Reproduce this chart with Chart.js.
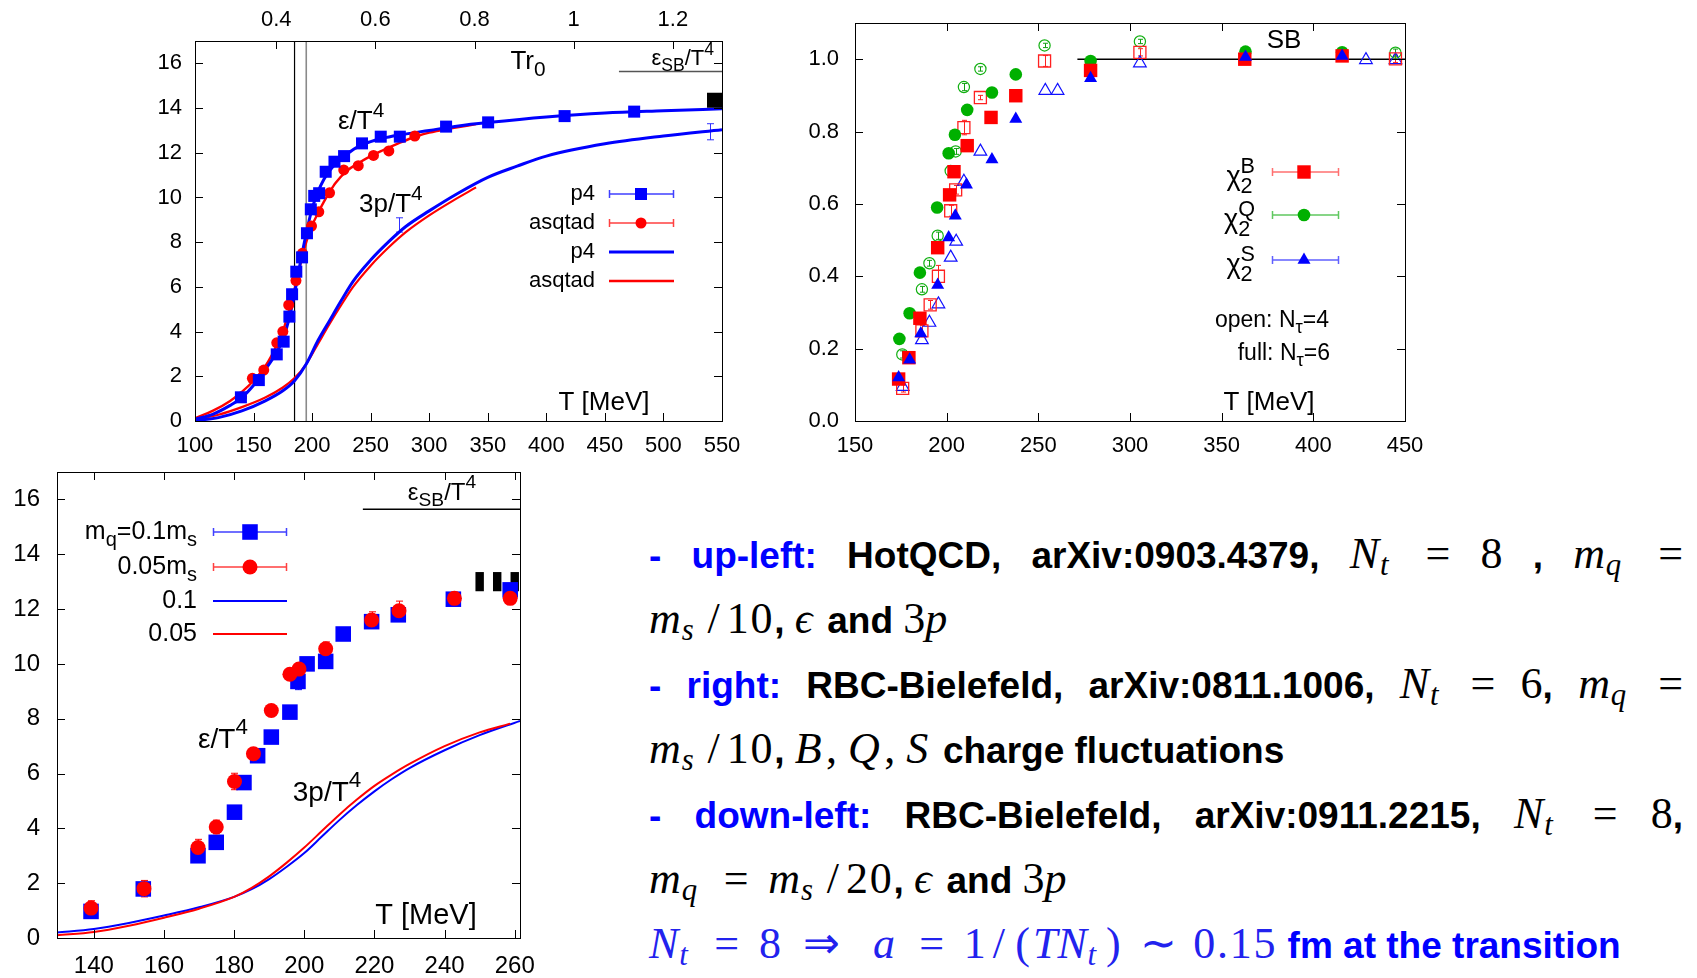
<!DOCTYPE html>
<html>
<head>
<meta charset="utf-8">
<script src="https://cdn.jsdelivr.net/npm/chart.js@4.4.0/dist/chart.umd.min.js"></script>
<style>
body{margin:0;background:#fff;width:1697px;height:978px;overflow:hidden;position:relative}
canvas{position:absolute}
#c1{left:140px;top:0}
#c2{left:780px;top:0}
#c3{left:0;top:460px}
.ln{position:absolute;left:649px;white-space:nowrap;font:bold 37px "Liberation Sans",Arial,sans-serif;color:#000;height:65px;line-height:65px}
.j{width:1034px;white-space:normal;text-align:justify;text-align-last:justify}
.m{font-family:"Liberation Serif","Times New Roman",serif;font-weight:normal;font-size:44px}
.m i{padding-right:0.1em}
.m i:has(+ sub){padding-right:0.02em}
.m sub{font-size:0.7em;vertical-align:-0.22em;line-height:0;padding-right:0.12em}
.rel{margin:0 0.2em}
.rel2{margin:0 0.25em}
.rel3{margin:0 0.12em}
.sl{margin:0 0.16em}
.pr{margin:0 0.07em}
.num{letter-spacing:0.04em}
.bl{color:#0000ff}
.mb{color:#2222ee}
</style>
</head>
<body>
<canvas id="c1" width="620" height="460"></canvas>
<canvas id="c2" width="660" height="460"></canvas>
<canvas id="c3" width="560" height="518"></canvas>

<div class="ln j" style="top:521px"><span class="bl">-</span> <span class="bl">up-left:</span> HotQCD, arXiv:0903.4379, <span class="m"><i>N</i><sub><i>t</i></sub></span> <span class="m">=</span> <span class="m">8</span> , <span class="m"><i>m</i><sub><i>q</i></sub></span> <span class="m">=</span></div>
<div class="ln" style="top:586px"><span class="m"><i>m</i><sub><i>s</i></sub><span class="sl">/</span><span class="num">10</span></span>, <span class="m"><i>ϵ</i></span> and <span class="m">3<i>p</i></span></div>
<div class="ln j" style="top:651px"><span class="bl">-</span> <span class="bl">right:</span> RBC-Bielefeld, arXiv:0811.1006, <span class="m"><i>N</i><sub><i>t</i></sub></span> <span class="m">=</span> <span class="m">6</span>, <span class="m"><i>m</i><sub><i>q</i></sub></span> <span class="m">=</span></div>
<div class="ln" style="top:716px"><span class="m"><i>m</i><sub><i>s</i></sub><span class="sl">/</span><span class="num">10</span></span>, <span class="m"><i>B</i>, <i>Q</i>, <i>S</i></span> charge fluctuations</div>
<div class="ln j" style="top:781px"><span class="bl">-</span> <span class="bl">down-left:</span> RBC-Bielefeld, arXiv:0911.2215, <span class="m"><i>N</i><sub><i>t</i></sub></span> <span class="m">=</span> <span class="m">8</span>,</div>
<div class="ln" style="top:846px"><span class="m"><i>m</i><sub><i>q</i></sub> <span class="rel">=</span> <i>m</i><sub><i>s</i></sub><span class="sl">/</span><span class="num">20</span></span>, <span class="m"><i>ϵ</i></span> and <span class="m">3<i>p</i></span></div>
<div class="ln" style="top:911px"><span class="m mb"><i>N</i><sub><i>t</i></sub> <span class="rel">=</span> 8 <span class="rel2">⇒</span>&nbsp; <i>a</i> <span class="rel">=</span> 1<span class="sl">/</span><span class="pr">(</span><i>TN</i><sub><i>t</i></sub><span class="pr">)</span> <span class="rel3">∼</span> <span class="num">0.15</span></span> <span class="bl">fm at the transition</span></div>

<script>
// --- dados: painel superior esquerdo (HotQCD, Nt=8) ---
const c1TicksX = [100, 150, 200, 250, 300, 350, 400, 450, 500, 550];
const c1TicksTop = [0.4, 0.6, 0.8, 1, 1.2];
const c1TicksY = [0, 2, 4, 6, 8, 10, 12, 14, 16];

const p4T = [139.2, 154.5, 169.8, 175.7, 180.6, 182.9, 186.5, 191.4, 195.6, 198.9, 201.8, 206, 211.6, 219.1, 227.3, 242.6, 258.6, 274.9, 314.4, 350.3, 415.6, 475];
const p4E = [1.06, 1.83, 2.98, 3.55, 4.67, 5.67, 6.68, 7.32, 8.40, 9.47, 10.07, 10.19, 11.15, 11.6, 11.85, 12.42, 12.72, 12.72, 13.17, 13.36, 13.64, 13.84];
const asqT = [139.8, 149, 158.7, 169.8, 175, 180, 186.2, 191.7, 199.5, 205.7, 214.9, 227, 239.4, 252.4, 265.5, 287.7];
const asqE = [1.09, 1.91, 2.28, 3.50, 4.0, 5.19, 6.28, 7.5, 8.72, 9.36, 10.21, 11.23, 11.42, 11.88, 12.08, 12.75];

const p4CurveT = [100, 115, 130, 140, 150, 160, 170, 175, 180, 185, 190, 195, 200, 205, 210, 215, 220, 230, 240, 250, 260, 275, 300, 325, 350, 400, 450, 500, 550];
const p4CurveE = [0.08, 0.3, 0.7, 1.05, 1.6, 2.3, 3.1, 3.65, 4.5, 5.7, 7.1, 8.4, 9.5, 10.25, 10.8, 11.2, 11.5, 11.95, 12.3, 12.5, 12.65, 12.8, 13.0, 13.2, 13.35, 13.6, 13.78, 13.88, 13.97];
const asqCurveT = [100, 115, 130, 140, 150, 160, 170, 175, 180, 185, 190, 195, 200, 205, 210, 215, 220, 230, 240, 250, 260, 275, 290, 300, 320, 340];
const asqCurveE = [0.12, 0.45, 0.9, 1.3, 1.8, 2.45, 3.4, 4.0, 4.9, 5.9, 7.0, 8.0, 8.75, 9.3, 9.8, 10.25, 10.65, 11.2, 11.55, 11.85, 12.1, 12.45, 12.75, 12.9, 13.1, 13.28];
const p4PressT = [100, 120, 140, 160, 175, 185, 195, 205, 215, 225, 235, 250, 265, 280, 300, 325, 350, 375, 400, 450, 500, 550];
const p4Press = [0.02, 0.15, 0.45, 0.9, 1.35, 1.8, 2.55, 3.6, 4.5, 5.4, 6.25, 7.2, 8.0, 8.7, 9.4, 10.2, 10.9, 11.4, 11.85, 12.4, 12.75, 13.03];
const asqPressT = [100, 120, 140, 160, 175, 185, 195, 205, 215, 225, 235, 250, 265, 280, 300, 320, 340];
const asqPress = [0.06, 0.28, 0.62, 1.05, 1.5, 1.92, 2.55, 3.45, 4.35, 5.2, 6.0, 6.95, 7.75, 8.45, 9.2, 9.85, 10.45];
const p4PressErrT = [274.6, 539.6];
const p4PressErrV = [8.77, 12.94];
const p4PressErr = [0.32, 0.36];
const c1SbMarkT = [543.6];
const c1SbMarkV = [14.35];
const c1SbLineT = [462, 550];
const c1SbLineV = [15.63, 15.63];
const tcLinesT = [185, 195];

// --- dados: painel direito (RBC-Bielefeld, flutuações) ---
const c2TicksX = [150, 200, 250, 300, 350, 400, 450];
const c2TicksY = [0, 0.2, 0.4, 0.6, 0.8, 1.0];
const fullBT = [173.8, 179.4, 185.4, 195.1, 201.6, 204.0, 211.2, 224.2, 237.7, 278.5, 362.6, 415.7];
const fullBV = [0.116, 0.175, 0.284, 0.479, 0.625, 0.689, 0.761, 0.839, 0.899, 0.969, 1.0, 1.009];
const fullQT = [174.2, 179.8, 185.4, 194.8, 201.1, 204.5, 211.2, 224.7, 237.7, 278.5, 363.0, 415.7];
const fullQV = [0.227, 0.298, 0.41, 0.59, 0.74, 0.791, 0.86, 0.908, 0.958, 0.995, 1.021, 1.019];
const fullST = [173.8, 179.8, 185.9, 195.1, 201.1, 204.7, 210.8, 224.7, 237.7, 278.5, 363.0, 415.7];
const fullSV = [0.12, 0.169, 0.242, 0.376, 0.507, 0.567, 0.653, 0.723, 0.835, 0.947, 1.006, 1.009];
const openBT = [176.0, 186.5, 191.0, 195.5, 202.2, 204.9, 209.4, 218.4, 253.4, 305.4, 444.8];
const openBV = [0.09, 0.249, 0.321, 0.4, 0.581, 0.639, 0.811, 0.894, 0.995, 1.019, 1.001];
const openBErr = [0.01, 0.015, 0.012, 0.03, 0.015, 0.012, 0.02, 0.006, 0.015, 0.01, 0.01];
const openQT = [175.8, 186.5, 190.6, 195.1, 202.2, 204.9, 209.4, 218.4, 253.4, 305.4, 444.8];
const openQV = [0.184, 0.364, 0.436, 0.512, 0.691, 0.745, 0.923, 0.973, 1.038, 1.049, 1.018];
const openQErr = [0.01, 0.008, 0.008, 0.01, 0.01, 0.008, 0.01, 0.006, 0.006, 0.006, 0.01];
const openST = [176.0, 186.5, 190.6, 195.5, 202.2, 205.2, 209.4, 218.4, 253.8, 260.5, 305.4, 428.7, 444.8];
const openSV = [0.095, 0.224, 0.272, 0.323, 0.452, 0.496, 0.662, 0.745, 0.913, 0.913, 0.989, 0.998, 0.998];
const c2SbLineT = [271.3, 450];
const c2SbLineV = [1.0, 1.0];

// --- dados: painel inferior esquerdo (RBC-Bielefeld, Nt=8) ---
const c3TicksX = [140, 160, 180, 200, 220, 240, 260];
const c3TicksY = [0, 2, 4, 6, 8, 10, 12, 14, 16];
const m01T = [139.2, 154.1, 169.7, 174.9, 180.1, 182.8, 186.7, 190.6, 195.9, 198.2, 200.8, 206.1, 211.1, 219.2, 226.8, 242.5, 258.7];
const m01E = [0.97, 1.79, 3.0, 3.49, 4.59, 5.67, 6.65, 7.33, 8.24, 9.36, 10.0, 10.09, 11.09, 11.54, 11.79, 12.36, 12.7];
const m01Err = [0.12, 0.1, 0.15, 0.1, 0.08, 0.08, 0.1, 0.08, 0.08, 0.3, 0.08, 0.15, 0.08, 0.12, 0.12, 0.15, 0.12];
const m005T = [139.2, 154.3, 169.7, 174.9, 180.1, 185.5, 190.6, 195.9, 198.5, 206.1, 219.2, 227.0, 242.8, 258.7];
const m005E = [1.09, 1.8, 3.3, 4.05, 5.71, 6.72, 8.3, 9.62, 9.81, 10.55, 11.6, 11.94, 12.39, 12.39];
const m005Err = [0.27, 0.3, 0.3, 0.25, 0.3, 0.1, 0.1, 0.1, 0.12, 0.25, 0.3, 0.35, 0.2, 0.12];
const m01PressT = [129.5, 140, 150, 160, 170, 180, 185, 190, 195, 200, 205, 210, 215, 220, 225, 230, 240, 250, 261.5];
const m01Press = [0.2, 0.33, 0.55, 0.82, 1.12, 1.5, 1.78, 2.15, 2.6, 3.1, 3.7, 4.3, 4.85, 5.35, 5.8, 6.2, 6.85, 7.4, 7.92];
const m005PressT = [129.5, 140, 150, 160, 170, 180, 185, 190, 195, 200, 205, 210, 215, 220, 225, 230, 240, 250, 258.7];
const m005Press = [0.1, 0.22, 0.45, 0.74, 1.07, 1.5, 1.83, 2.25, 2.75, 3.3, 3.9, 4.5, 5.05, 5.55, 5.97, 6.35, 7.0, 7.5, 7.82];
const c3SbBoxT = [250, 255, 260];
const c3SbBoxLo = 12.65;
const c3SbBoxHi = 13.35;
const c3SbLineT = [216.7, 261.5];
const c3SbLineV = [15.64, 15.64];

// --- estilo ---
const FAM = '"Liberation Sans", Arial, sans-serif';
const BLUE = '#0000ff', RED = '#ff0000', GREEN = '#00b000';
const NONE = 'rgba(0,0,0,0)';

const mk = {
    p4: {style: 'rect', r: 8.5, fill: BLUE, stroke: BLUE, bw: 0},
    asq: {style: 'circle', r: 5.5, fill: RED, stroke: RED, bw: 0},
    fullB: {style: 'rect', r: 9.5, fill: RED, stroke: RED, bw: 0},
    fullQ: {style: 'circle', r: 6.3, fill: GREEN, stroke: GREEN, bw: 0},
    fullS: {style: 'triangle', r: 7.5, fill: BLUE, stroke: BLUE, bw: 0},
    openB: {style: 'rect', r: 8.5, fill: NONE, stroke: '#ff2020', bw: 1.3},
    openQ: {style: 'circle', r: 5.6, fill: NONE, stroke: '#10b010', bw: 1.2},
    openS: {style: 'triangle', r: 7.3, fill: NONE, stroke: '#1010ff', bw: 1.2},
    m01: {style: 'rect', r: 11, fill: BLUE, stroke: BLUE, bw: 0},
    m005: {style: 'circle', r: 7.5, fill: RED, stroke: RED, bw: 0}
};

function pts(xs, ys) {
    return xs.map((x, i) => ({x: x, y: ys[i]}));
}

function markerSet(xs, ys, m, extra) {
    return Object.assign({
        data: pts(xs, ys), showLine: false,
        pointStyle: m.style, pointRadius: m.r,
        pointBackgroundColor: m.fill, pointBorderColor: m.stroke,
        pointBorderWidth: m.bw, borderColor: m.stroke, clip: false
    }, extra || {});
}

function curveSet(xs, ys, color, width, extra) {
    return Object.assign({
        data: pts(xs, ys), showLine: true, pointRadius: 0,
        borderColor: color, borderWidth: width,
        cubicInterpolationMode: 'monotone', fill: false
    }, extra || {});
}

// --- texto com índices (estilo gnuplot enhanced) ---
function parseRich(s) {
    const out = [];
    let buf = '', i = 0;
    while (i < s.length) {
        const c = s[i];
        if (c === '_' || c === '^') {
            if (buf) { out.push({t: buf, k: 'n'}); buf = ''; }
            let g;
            if (s[i + 1] === '{') {
                const j = s.indexOf('}', i);
                g = s.slice(i + 2, j);
                i = j + 1;
            } else {
                g = s[i + 1];
                i += 2;
            }
            out.push({t: g, k: c === '_' ? 'b' : 'p'});
        } else {
            buf += c;
            i++;
        }
    }
    if (buf) out.push({t: buf, k: 'n'});
    return out;
}

function drawRich(ctx, s, x, y, size, align, color) {
    const parts = parseRich(s);
    const small = size * 0.8;
    const items = [];
    let w = 0, start = 0;
    parts.forEach((p, i) => {
        const fs = p.k === 'n' ? size : small;
        ctx.font = fs + 'px ' + FAM;
        const pw = ctx.measureText(p.t).width;
        const prev = parts[i - 1];
        let px;
        if (p.k === 'p' && prev && prev.k === 'b') {
            px = start;
            w = Math.max(w, start + pw);
        } else {
            start = w;
            px = w;
            w += pw;
        }
        items.push({t: p.t, x: px, fs: fs, dy: p.k === 'b' ? size * 0.32 : (p.k === 'p' ? -size * 0.42 : 0)});
    });
    const x0 = align === 'right' ? x - w : (align === 'center' ? x - w / 2 : x);
    ctx.save();
    ctx.fillStyle = color || '#000';
    ctx.textBaseline = 'middle';
    ctx.textAlign = 'left';
    items.forEach(it => {
        ctx.font = it.fs + 'px ' + FAM;
        ctx.fillText(it.t, x0 + it.x, y + it.dy);
    });
    ctx.restore();
}

function drawMarker(ctx, m, x, y) {
    ctx.save();
    ctx.fillStyle = m.fill;
    ctx.strokeStyle = m.stroke;
    ctx.lineWidth = m.bw || 1;
    ctx.beginPath();
    if (m.style === 'rect') {
        const h = m.r * Math.SQRT1_2;
        ctx.rect(x - h, y - h, 2 * h, 2 * h);
    } else if (m.style === 'circle') {
        ctx.arc(x, y, m.r, 0, 2 * Math.PI);
    } else {
        for (let k = 0; k < 3; k++) {
            const ang = k * 2 * Math.PI / 3;
            const px = x + Math.sin(ang) * m.r, py = y - Math.cos(ang) * m.r;
            if (k === 0) ctx.moveTo(px, py); else ctx.lineTo(px, py);
        }
        ctx.closePath();
    }
    ctx.fill();
    if (m.bw) ctx.stroke();
    ctx.restore();
}

function drawLegend(ctx, lg) {
    lg.items.forEach((it, i) => {
        const y = lg.ys[i];
        drawRich(ctx, it.s, lg.tx, y + (lg.tdy || 0), lg.size, 'right', '#000');
        ctx.save();
        ctx.strokeStyle = it.line;
        ctx.lineWidth = it.lw;
        ctx.beginPath();
        ctx.moveTo(lg.x1, y);
        ctx.lineTo(lg.x2, y);
        if (it.err) {
            ctx.moveTo(lg.x1 + 0.5, y - 4); ctx.lineTo(lg.x1 + 0.5, y + 4);
            ctx.moveTo(lg.x2 - 0.5, y - 4); ctx.lineTo(lg.x2 - 0.5, y + 4);
        }
        ctx.stroke();
        ctx.restore();
        if (it.marker) drawMarker(ctx, it.marker, lg.xm, y);
    });
}

// --- plugin: moldura, ticks para dentro, barras de erro, rótulos ---
const gnuPlugin = {
    id: 'gnu',
    beforeDatasetsDraw(chart, args, o) {
        const ctx = chart.ctx;
        chart.data.datasets.forEach((ds, i) => {
            if (!ds.errs) return;
            const meta = chart.getDatasetMeta(i);
            const ys = chart.scales[meta.yAxisID];
            const c = o.cap || 3.5;
            ctx.save();
            ctx.strokeStyle = ds.errColor || ds.borderColor;
            ctx.lineWidth = 1;
            ctx.beginPath();
            meta.data.forEach((el, j) => {
                const e = ds.errs[j];
                if (!e) return;
                const v = ds.data[j].y;
                const x = Math.round(el.x) + 0.5;
                const y1 = ys.getPixelForValue(v - e), y2 = ys.getPixelForValue(v + e);
                ctx.moveTo(x, y1); ctx.lineTo(x, y2);
                ctx.moveTo(x - c, y1); ctx.lineTo(x + c, y1);
                ctx.moveTo(x - c, y2); ctx.lineTo(x + c, y2);
            });
            ctx.stroke();
            ctx.restore();
        });
        if (o.boxes) {
            const b = o.boxes, xs = chart.scales.x, ys = chart.scales.y, a = chart.chartArea;
            ctx.save();
            ctx.beginPath();
            ctx.rect(a.left, a.top, a.right - a.left, a.bottom - a.top);
            ctx.clip();
            ctx.fillStyle = b.color;
            b.t.forEach(t => {
                const x1 = xs.getPixelForValue(t - b.half), x2 = xs.getPixelForValue(t + b.half);
                const y1 = ys.getPixelForValue(b.hi), y2 = ys.getPixelForValue(b.lo);
                ctx.fillRect(x1, y1, x2 - x1, y2 - y1);
            });
            ctx.restore();
        }
    },
    afterDraw(chart, args, o) {
        const ctx = chart.ctx, a = chart.chartArea, L = o.tickLen || 8;
        ctx.save();
        ctx.strokeStyle = '#000';
        ctx.lineWidth = 1;
        ctx.beginPath();
        Object.values(chart.scales).forEach(s => {
            s.ticks.forEach(t => {
                const p = Math.round(s.getPixelForValue(t.value)) + 0.5;
                if (s.isHorizontal()) {
                    if (s.position === 'bottom') { ctx.moveTo(p, a.bottom); ctx.lineTo(p, a.bottom - L); }
                    if (s.position === 'top' || o.mirrorX) { ctx.moveTo(p, a.top); ctx.lineTo(p, a.top + L); }
                } else {
                    ctx.moveTo(a.left, p); ctx.lineTo(a.left + L, p);
                    ctx.moveTo(a.right, p); ctx.lineTo(a.right - L, p);
                }
            });
        });
        ctx.stroke();
        ctx.strokeRect(Math.round(a.left) + 0.5, Math.round(a.top) + 0.5,
            Math.round(a.right - a.left), Math.round(a.bottom - a.top));
        (o.labels || []).forEach(l => drawRich(ctx, l.s, l.x, l.y, l.size, l.align, l.color));
        if (o.legend) drawLegend(ctx, o.legend);
        ctx.restore();
    }
};
Chart.register(gnuPlugin);

function axis(position, min, max, ticks, size, font, pad, fmt) {
    return {
        type: 'linear', position: position, min: min, max: max,
        grid: {display: false, drawTicks: false},
        border: {display: false},
        afterBuildTicks: s => { s.ticks = ticks.map(v => ({value: v})); },
        afterFit: s => {
            // tamanho fixo do eixo, sem folga extra dos rótulos
            if (s.isHorizontal()) {
                s.height = size;
                s.paddingLeft = 0;
                s.paddingRight = 0;
            } else {
                s.width = size;
                s.paddingTop = 0;
                s.paddingBottom = 0;
            }
        },
        ticks: {
            autoSkip: false, maxRotation: 0, minRotation: 0, padding: pad, color: '#000',
            font: {family: FAM, size: font, lineHeight: 1.2},
            callback: fmt || (v => String(v))
        }
    };
}

function baseOptions(scales, pad, gnu) {
    return {
        responsive: false, animation: false, devicePixelRatio: 1,
        layout: {padding: pad},
        scales: scales,
        plugins: {legend: {display: false}, tooltip: {enabled: false}, gnu: gnu}
    };
}

// --- gráfico 1 ---
new Chart(document.getElementById('c1'), {
    type: 'scatter',
    data: {
        datasets: [
            markerSet(p4T, p4E, mk.p4),
            markerSet(asqT, asqE, mk.asq),
            markerSet(c1SbMarkT, c1SbMarkV, {style: 'rect', r: 10.6, fill: '#000', stroke: '#000', bw: 0}),
            curveSet(p4CurveT, p4CurveE, BLUE, 3),
            curveSet(asqCurveT, asqCurveE, RED, 2.4),
            curveSet(p4PressT, p4Press, BLUE, 3),
            curveSet(asqPressT, asqPress, RED, 2.2),
            Object.assign(markerSet(p4PressErrT, p4PressErrV, {style: 'circle', r: 0, fill: NONE, stroke: BLUE, bw: 0}),
                {errs: p4PressErr, errColor: '#3030ff'}),
            curveSet([tcLinesT[0], tcLinesT[0]], [0, 17], '#000', 1.2, {cubicInterpolationMode: 'default'}),
            curveSet([tcLinesT[1], tcLinesT[1]], [0, 17], '#8a8a8a', 1.6, {cubicInterpolationMode: 'default'}),
            curveSet(c1SbLineT, c1SbLineV, '#555', 1.5)
        ]
    },
    options: baseOptions({
        x: axis('bottom', 100, 550, c1TicksX, 39, 22, 12),
        x2: axis('top', 0.2362, 1.2991, c1TicksTop, 41, 22, 7.5),
        y: axis('left', 0, 17, c1TicksY, 55, 22, 13)
    }, {left: 0, right: 38, top: 0, bottom: 0}, {
        tickLen: 8,
        labels: [
            {s: 'Tr_0', x: 388, y: 62, size: 26, align: 'center'},
            {s: 'ε_{SB}/T^4', x: 574, y: 59, size: 22, align: 'right'},
            {s: 'ε/T^4', x: 198, y: 122, size: 26, align: 'left'},
            {s: '3p/T^4', x: 219, y: 205, size: 26, align: 'left'},
            {s: 'T [MeV]', x: 464, y: 403, size: 26, align: 'center'}
        ],
        legend: {
            tx: 455, x1: 469, x2: 534, xm: 501, size: 22,
            ys: [194, 223, 252, 281],
            items: [
                {s: 'p4', line: '#4040ff', lw: 1.5, err: true, marker: mk.p4},
                {s: 'asqtad', line: '#ff4040', lw: 1.5, err: true, marker: mk.asq},
                {s: 'p4', line: BLUE, lw: 3},
                {s: 'asqtad', line: RED, lw: 2.4}
            ]
        }
    })
});

// --- gráfico 2 ---
new Chart(document.getElementById('c2'), {
    type: 'scatter',
    data: {
        datasets: [
            markerSet(fullST, fullSV, mk.fullS),
            markerSet(fullBT, fullBV, mk.fullB),
            markerSet(fullQT, fullQV, mk.fullQ),
            Object.assign(markerSet(openBT, openBV, mk.openB), {errs: openBErr, errColor: '#ff2020'}),
            Object.assign(markerSet(openQT, openQV, mk.openQ), {errs: openQErr, errColor: '#10a010'}),
            markerSet(openST, openSV, mk.openS),
            curveSet(c2SbLineT, c2SbLineV, '#000', 1.6)
        ]
    },
    options: baseOptions({
        x: axis('bottom', 150, 450, c2TicksX, 39, 22, 12),
        y: axis('left', 0, 1.1, c2TicksY, 75, 22, 16, v => v.toFixed(1))
    }, {left: 0, right: 35, top: 23, bottom: 0}, {
        tickLen: 8, mirrorX: true, cap: 2.5,
        labels: [
            {s: 'SB', x: 504, y: 41, size: 26, align: 'center'},
            {s: 'open: N_τ=4', x: 549, y: 321, size: 23, align: 'right'},
            {s: 'full: N_τ=6', x: 550, y: 354, size: 23, align: 'right'},
            {s: 'T [MeV]', x: 489, y: 403, size: 26, align: 'center'}
        ],
        legend: {
            tx: 475, x1: 492, x2: 559, xm: 524, size: 27, tdy: 6,
            ys: [172, 215, 260],
            items: [
                {s: 'χ_2^B', line: '#ff7070', lw: 1.5, err: true, marker: mk.fullB},
                {s: 'χ_2^Q', line: '#60c860', lw: 1.5, err: true, marker: mk.fullQ},
                {s: 'χ_2^S', line: '#6060ff', lw: 1.5, err: true, marker: mk.fullS}
            ]
        }
    })
});

// --- gráfico 3 ---
new Chart(document.getElementById('c3'), {
    type: 'scatter',
    data: {
        datasets: [
            Object.assign(markerSet(m005T, m005E, mk.m005), {errs: m005Err, errColor: RED}),
            Object.assign(markerSet(m01T, m01E, mk.m01), {errs: m01Err, errColor: BLUE}),
            curveSet(m005PressT, m005Press, RED, 2),
            curveSet(m01PressT, m01Press, BLUE, 2),
            curveSet(c3SbLineT, c3SbLineV, '#000', 1.4)
        ]
    },
    options: baseOptions({
        x: axis('bottom', 129.5, 261.5, c3TicksX, 40, 24, 14),
        y: axis('left', 0, 17, c3TicksY, 57, 24, 17)
    }, {left: 0, right: 40, top: 12, bottom: 0}, {
        tickLen: 8, mirrorX: true,
        boxes: {t: c3SbBoxT, lo: c3SbBoxLo, hi: c3SbBoxHi, half: 1.2, color: '#000'},
        labels: [
            {s: 'ε_{SB}/T^4', x: 442, y: 33, size: 24, align: 'center'},
            {s: 'ε/T^4', x: 223, y: 280, size: 28, align: 'center'},
            {s: '3p/T^4', x: 327, y: 333, size: 28, align: 'center'},
            {s: 'T [MeV]', x: 426, y: 456, size: 29, align: 'center'}
        ],
        legend: {
            tx: 197, x1: 213, x2: 287, xm: 250, size: 25,
            ys: [72, 107, 141, 174],
            items: [
                {s: 'm_q=0.1m_s', line: '#4040ff', lw: 1.5, err: true, marker: mk.m01},
                {s: '0.05m_s', line: '#ff4040', lw: 1.5, err: true, marker: mk.m005},
                {s: '0.1', line: BLUE, lw: 2},
                {s: '0.05', line: RED, lw: 2}
            ]
        }
    })
});
</script>
</body>
</html>
